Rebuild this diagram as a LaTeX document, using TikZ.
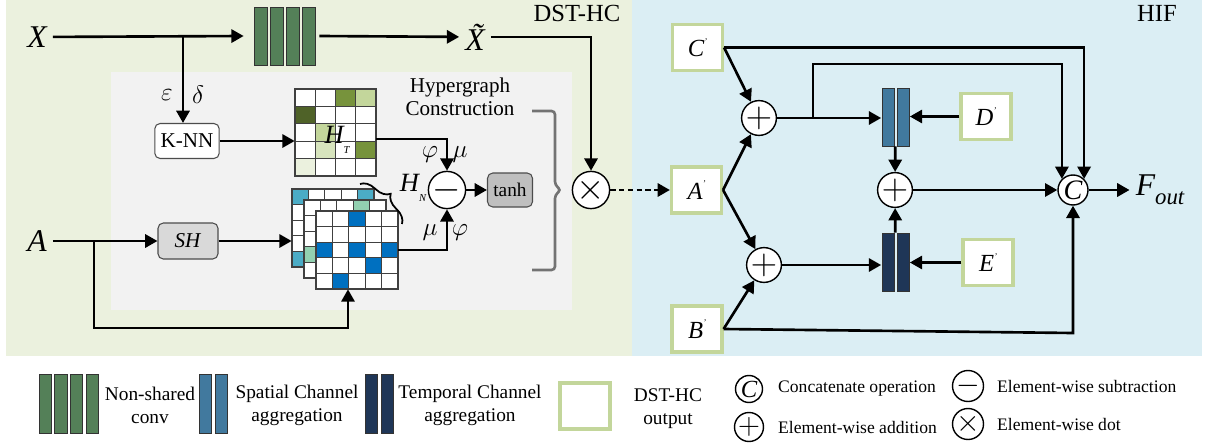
\documentclass[tikz,border=0pt]{standalone}
\usepackage{fontspec}
\setmainfont{Liberation Serif}
\usepackage{tikz}
\usetikzlibrary{arrows.meta, positioning, calc, decorations.pathreplacing}
\definecolor{panelgreen}{RGB}{235,241,222}
\definecolor{panelblue}{RGB}{219,238,244}
\definecolor{innergray}{RGB}{242,242,242}
\definecolor{convgreen}{RGB}{84,128,88}
\definecolor{spablue}{RGB}{65,121,158}
\definecolor{tmpblue}{RGB}{31,54,87}
\definecolor{featgreen}{RGB}{195,214,155}
\definecolor{gdark}{RGB}{79,98,40}
\definecolor{gmid}{RGB}{119,147,60}
\definecolor{glight}{RGB}{195,214,155}
\definecolor{gpale}{RGB}{215,228,189}
\definecolor{gfaint}{RGB}{235,241,222}
\definecolor{hteal}{RGB}{75,172,198}
\definecolor{hmint}{RGB}{146,208,176}
\definecolor{hblue}{RGB}{0,112,192}
\newcommand{\pmark}{\raisebox{1.1ex}{\tiny '}}
\newcommand{\subl}[1]{\raisebox{-0.8ex}{\fontsize{6}{6}\selectfont #1}}

\begin{document}
\begin{tikzpicture}[
		arr/.style={-{Triangle[length=7pt,width=7.5pt]}, line width=1.5pt},
		op/.style={circle, draw, fill=white, line width=0.8pt, minimum size=0.6cm, inner sep=0pt, font=\fontsize{22}{22}\selectfont},
		feat/.style={draw=featgreen, line width=1.8pt, fill=white, minimum width=1.0cm, minimum height=0.92cm, font=\fontsize{14}{16}\selectfont\itshape},
		blk/.style={draw=black!70, rounded corners=3pt, line width=0.6pt, minimum width=1.2cm, minimum height=0.7cm, font=\fontsize{12}{14}\selectfont},
		big/.style={font=\fontsize{18}{20}\selectfont\itshape},
		greek/.style={font=\fontsize{15}{17}\selectfont},
		cell/.style={draw=black!75, line width=0.6pt},
		bar/.style={draw=black!80, line width=0.5pt},
		leg/.style={font=\fontsize{11}{13}\selectfont, align=center},
		legtxt/.style={font=\fontsize{10}{12}\selectfont, anchor=west},
		legop/.style={circle, draw, line width=0.8pt, minimum size=0.54cm, inner sep=0pt, font=\fontsize{19}{19}\selectfont}
		]
		\useasboundingbox (0,0) rectangle (24.1,-8.92);
		
		% Panels
		\fill[panelgreen] (0.12,0) rectangle (12.64,-7.12);
		\fill[panelblue] (12.64,0) rectangle (24.04,-7.12);
		\fill[innergray] (2.22,-1.44) rectangle (11.44,-6.2);
		\node[font=\fontsize{14}{16}\selectfont] (dst) at (11.54,-0.26) {DST-HC};
		\node[font=\fontsize{14}{16}\selectfont] (hif) at (23.14,-0.26) {HIF};
		\node[font=\fontsize{12}{13}\selectfont, align=center] (hgc) at (9.2,-1.94) {Hypergraph\\Construction};
		
		% Inputs and non-shared conv
		\node[big] (x) at (0.74,-0.74) {X};
		\node[big] (a) at (0.74,-4.82) {A};
		\foreach \i in {0,...,3}
		\draw[bar, fill=convgreen] (5.08+0.32*\i,-0.14) rectangle ++(0.26,-1.16);
		\node (conv) at (5.69,-0.72) [minimum width=1.22cm, minimum height=1.16cm, inner sep=0] {};
		\node[big] (xt) at (9.5,-0.74) {\~{X}};
		\coordinate (split) at (3.66,-0.74);
		\coordinate (split2) at (1.88,-4.82);
		\coordinate (lowturn) at (6.96,-6.56);
		
		% K-NN and SH
		\node[blk, fill=white] (knn) at (3.74,-2.82) {K-NN};
		\node[blk, fill=black!15, minimum height=0.72cm] (sh) at (3.76,-4.82) {\textit{SH}};
		\node[greek] (eps) at (3.34,-1.9) {$\varepsilon$};
		\node[greek] (dlt) at (3.96,-1.9) {$\delta$};
		
		% H_T
		\foreach \r in {0,...,4}
		\foreach \c in {0,...,3}
		\draw[cell, fill=white] (5.9+0.405*\c,-1.78-0.348*\r) rectangle ++(0.405,-0.348);
		\foreach \c/\r/\col in {2/0/gmid, 3/0/glight, 0/1/gdark, 1/2/glight, 1/3/gpale, 3/3/gmid, 0/4/gfaint}
		\draw[cell, fill=\col] (5.9+0.405*\c,-1.78-0.348*\r) rectangle ++(0.405,-0.348);
		\node (ht) at (6.71,-2.65) [minimum width=1.62cm, minimum height=1.74cm, inner sep=0] {};
		\node[font=\fontsize{15}{17}\selectfont\itshape] (htl) at (6.74,-2.8) {H\subl{T}};
		
		% H_N stack
		\foreach \r in {0,...,4}
		\foreach \c in {0,...,4}
		\draw[cell, fill=white] (5.84+0.328*\c,-3.78-0.312*\r) rectangle ++(0.328,-0.312);
		\foreach \c/\r in {0/0, 4/0, 0/4}
		\draw[cell, fill=hteal] (5.84+0.328*\c,-3.78-0.312*\r) rectangle ++(0.328,-0.312);
		\foreach \r in {0,...,4}
		\foreach \c in {0,...,4}
		\draw[cell, fill=white] (6.08+0.328*\c,-4.0-0.312*\r) rectangle ++(0.328,-0.312);
		\foreach \c/\r in {3/0, 0/3}
		\draw[cell, fill=hmint] (6.08+0.328*\c,-4.0-0.312*\r) rectangle ++(0.328,-0.312);
		\foreach \r in {0,...,4}
		\foreach \c in {0,...,4}
		\draw[cell, fill=white] (6.32+0.328*\c,-4.22-0.312*\r) rectangle ++(0.328,-0.312);
		\foreach \c/\r in {2/0, 0/2, 2/2, 4/2, 3/3, 1/4}
		\draw[cell, fill=hblue] (6.32+0.328*\c,-4.22-0.312*\r) rectangle ++(0.328,-0.312);
		\node (hback) at (6.66,-4.56) [minimum width=1.64cm, minimum height=1.56cm, inner sep=0] {};
		\node (hfront) at (7.14,-5.0) [minimum width=1.64cm, minimum height=1.56cm, inner sep=0] {};
		\node[font=\fontsize{15}{17}\selectfont\itshape] (hn) at (8.26,-3.76) {H\subl{N}};
		\draw[line width=1pt, decorate, decoration={brace, amplitude=8pt}] (7.2,-3.68) -- (8.04,-4.48);
		
		% Subtraction, tanh, dot
		\node[op] (sub) at (8.94,-3.8) {$-$};
		\node[blk, fill=black!25, minimum width=0.88cm, minimum height=0.68cm, font=\fontsize{11}{13}\selectfont] (tanh) at (10.2,-3.8) {tanh};
		\node[op] (mul) at (11.82,-3.8) {$\times$};
		\node[greek] (phi1) at (8.6,-3.1) {$\varphi$};
		\node[greek] (mu1) at (9.2,-3.1) {$\mu$};
		\node[greek] (mu2) at (8.6,-4.66) {$\mu$};
		\node[greek] (phi2) at (9.2,-4.66) {$\varphi$};
		\draw[black!55, line width=1.5pt, rounded corners=2pt] (10.64,-2.22) -- (11.1,-2.22) -- (11.1,-3.7) -- (11.22,-3.8) -- (11.1,-3.9) -- (11.1,-5.4) -- (10.64,-5.4);
		
		% DST-HC wiring
		\draw[arr] (x) -- ([xshift=-0.2cm]conv.west);
		\draw[arr] ([xshift=0.08cm]conv.east) -- (xt);
		\draw[arr] (xt.east) -| (mul);
		\draw[arr] (split) -- (split |- knn.north);
		\draw[arr] (knn) -- (ht.west |- knn);
		\draw[arr] (a) -- (sh);
		\draw[arr] (sh) -- (sh -| hback.west);
		\draw[arr] (split2) |- (lowturn) -- (lowturn |- hfront.south);
		\draw[arr] ([yshift=-0.13cm]ht.east) -| (sub);
		\draw[arr] (hfront.east) -| (sub);
		\draw[arr] (sub) -- (tanh);
		
		% HIF
		\node[feat] (cp) at (13.95,-0.95) {C\pmark};
		\node[feat] (ap) at (13.93,-3.8) {A\pmark};
		\node[feat] (bp) at (13.94,-6.58) {B\pmark};
		\node[feat] (dp) at (19.72,-2.33) {D\pmark};
		\node[feat] (ep) at (19.76,-5.25) {E\pmark};
		\node[op] (plus1) at (15.18,-2.36) {$+$};
		\node[op] (plus2) at (17.9,-3.8) {$+$};
		\node[op] (plus3) at (15.28,-5.3) {$+$};
		\node[op, font=\fontsize{16}{18}\selectfont\itshape] (cat) at (21.46,-3.8) {C};
		\node[big] (fout) at (23.2,-3.8) {F\raisebox{-0.6ex}{\fontsize{13}{15}\selectfont out}};
		\foreach \i in {0,1}
		\draw[bar, fill=spablue] (17.64+0.3*\i,-1.76) rectangle ++(0.25,-1.16);
		\foreach \i in {0,1}
		\draw[bar, fill=tmpblue] (17.64+0.3*\i,-4.66) rectangle ++(0.25,-1.16);
		\node (spa) at (17.91,-2.34) [minimum width=0.56cm, minimum height=1.16cm, inner sep=0] {};
		\node (tmp) at (17.91,-5.24) [minimum width=0.56cm, minimum height=1.16cm, inner sep=0] {};
		\coordinate (tap) at (16.26,-2.36);
		\coordinate (tapup) at (16.26,-1.28);
		\coordinate (bturn) at (21.46,-6.66);
		
		% HIF wiring
		\draw[arr, dash pattern=on 3pt off 2pt] (mul) -- (ap);
		\draw[arr] (cp.east) -- (plus1);
		\draw[arr] (ap.east) -- (plus1);
		\draw[arr] (ap.east) -- (plus3);
		\draw[arr] (bp.east) -- (plus3);
		\draw[arr] (plus1) -- (spa.west |- plus1);
		\draw[arr] (dp) -- (spa.east |- dp);
		\draw[arr] (spa) -- (plus2);
		\draw[arr] (tmp) -- (plus2);
		\draw[arr] (plus3) -- (tmp.west |- plus3);
		\draw[arr] (ep) -- (tmp.east |- ep);
		\draw[arr] (plus2) -- (cat);
		\draw[arr] (cat) -- (fout);
		\draw[arr] (cp.east) -| (cat.45);
		\draw[arr] (tap) -- (tapup) -| (cat.135);
		\draw[arr] (bp.east) -- (bturn) -- (cat);
		
		% Legend
		\foreach \i in {0,...,3}
		\draw[bar, fill=convgreen] (0.786+0.312*\i,-7.48) rectangle ++(0.246,-1.18);
		\foreach \i in {0,1}
		\draw[bar, fill=spablue] (3.99+0.31*\i,-7.48) rectangle ++(0.246,-1.18);
		\foreach \i in {0,1}
		\draw[bar, fill=tmpblue] (7.31+0.31*\i,-7.48) rectangle ++(0.246,-1.18);
		\node[leg] (lconv) at (3.0,-8.1) {Non-shared\\conv};
		\node[leg] (lspa) at (5.94,-8.1) {Spatial Channel\\aggregation};
		\node[leg] (ltmp) at (9.4,-8.1) {Temporal Channel\\aggregation};
		\node[feat] (lfeat) at (11.7,-8.12) {};
		\node[leg] (lfeattxt) at (13.36,-8.18) {DST-HC\\output};
		\node[legop, font=\fontsize{14}{14}\selectfont\itshape] (lcat) at (14.98,-7.78) {C};
		\node[legop] (ladd) at (14.98,-8.54) {$+$};
		\node[legop] (lsub) at (19.36,-7.72) {$-$};
		\node[legop] (lmul) at (19.36,-8.48) {$\times$};
		\node[legtxt] (lcattxt) at (15.44,-7.78) {Concatenate operation};
		\node[legtxt] (laddtxt) at (15.44,-8.54) {Element-wise addition};
		\node[legtxt] (lsubtxt) at (19.82,-7.72) {Element-wise subtraction};
		\node[legtxt] (lmultxt) at (19.82,-8.48) {Element-wise dot};
		
	\end{tikzpicture}
\end{document}
